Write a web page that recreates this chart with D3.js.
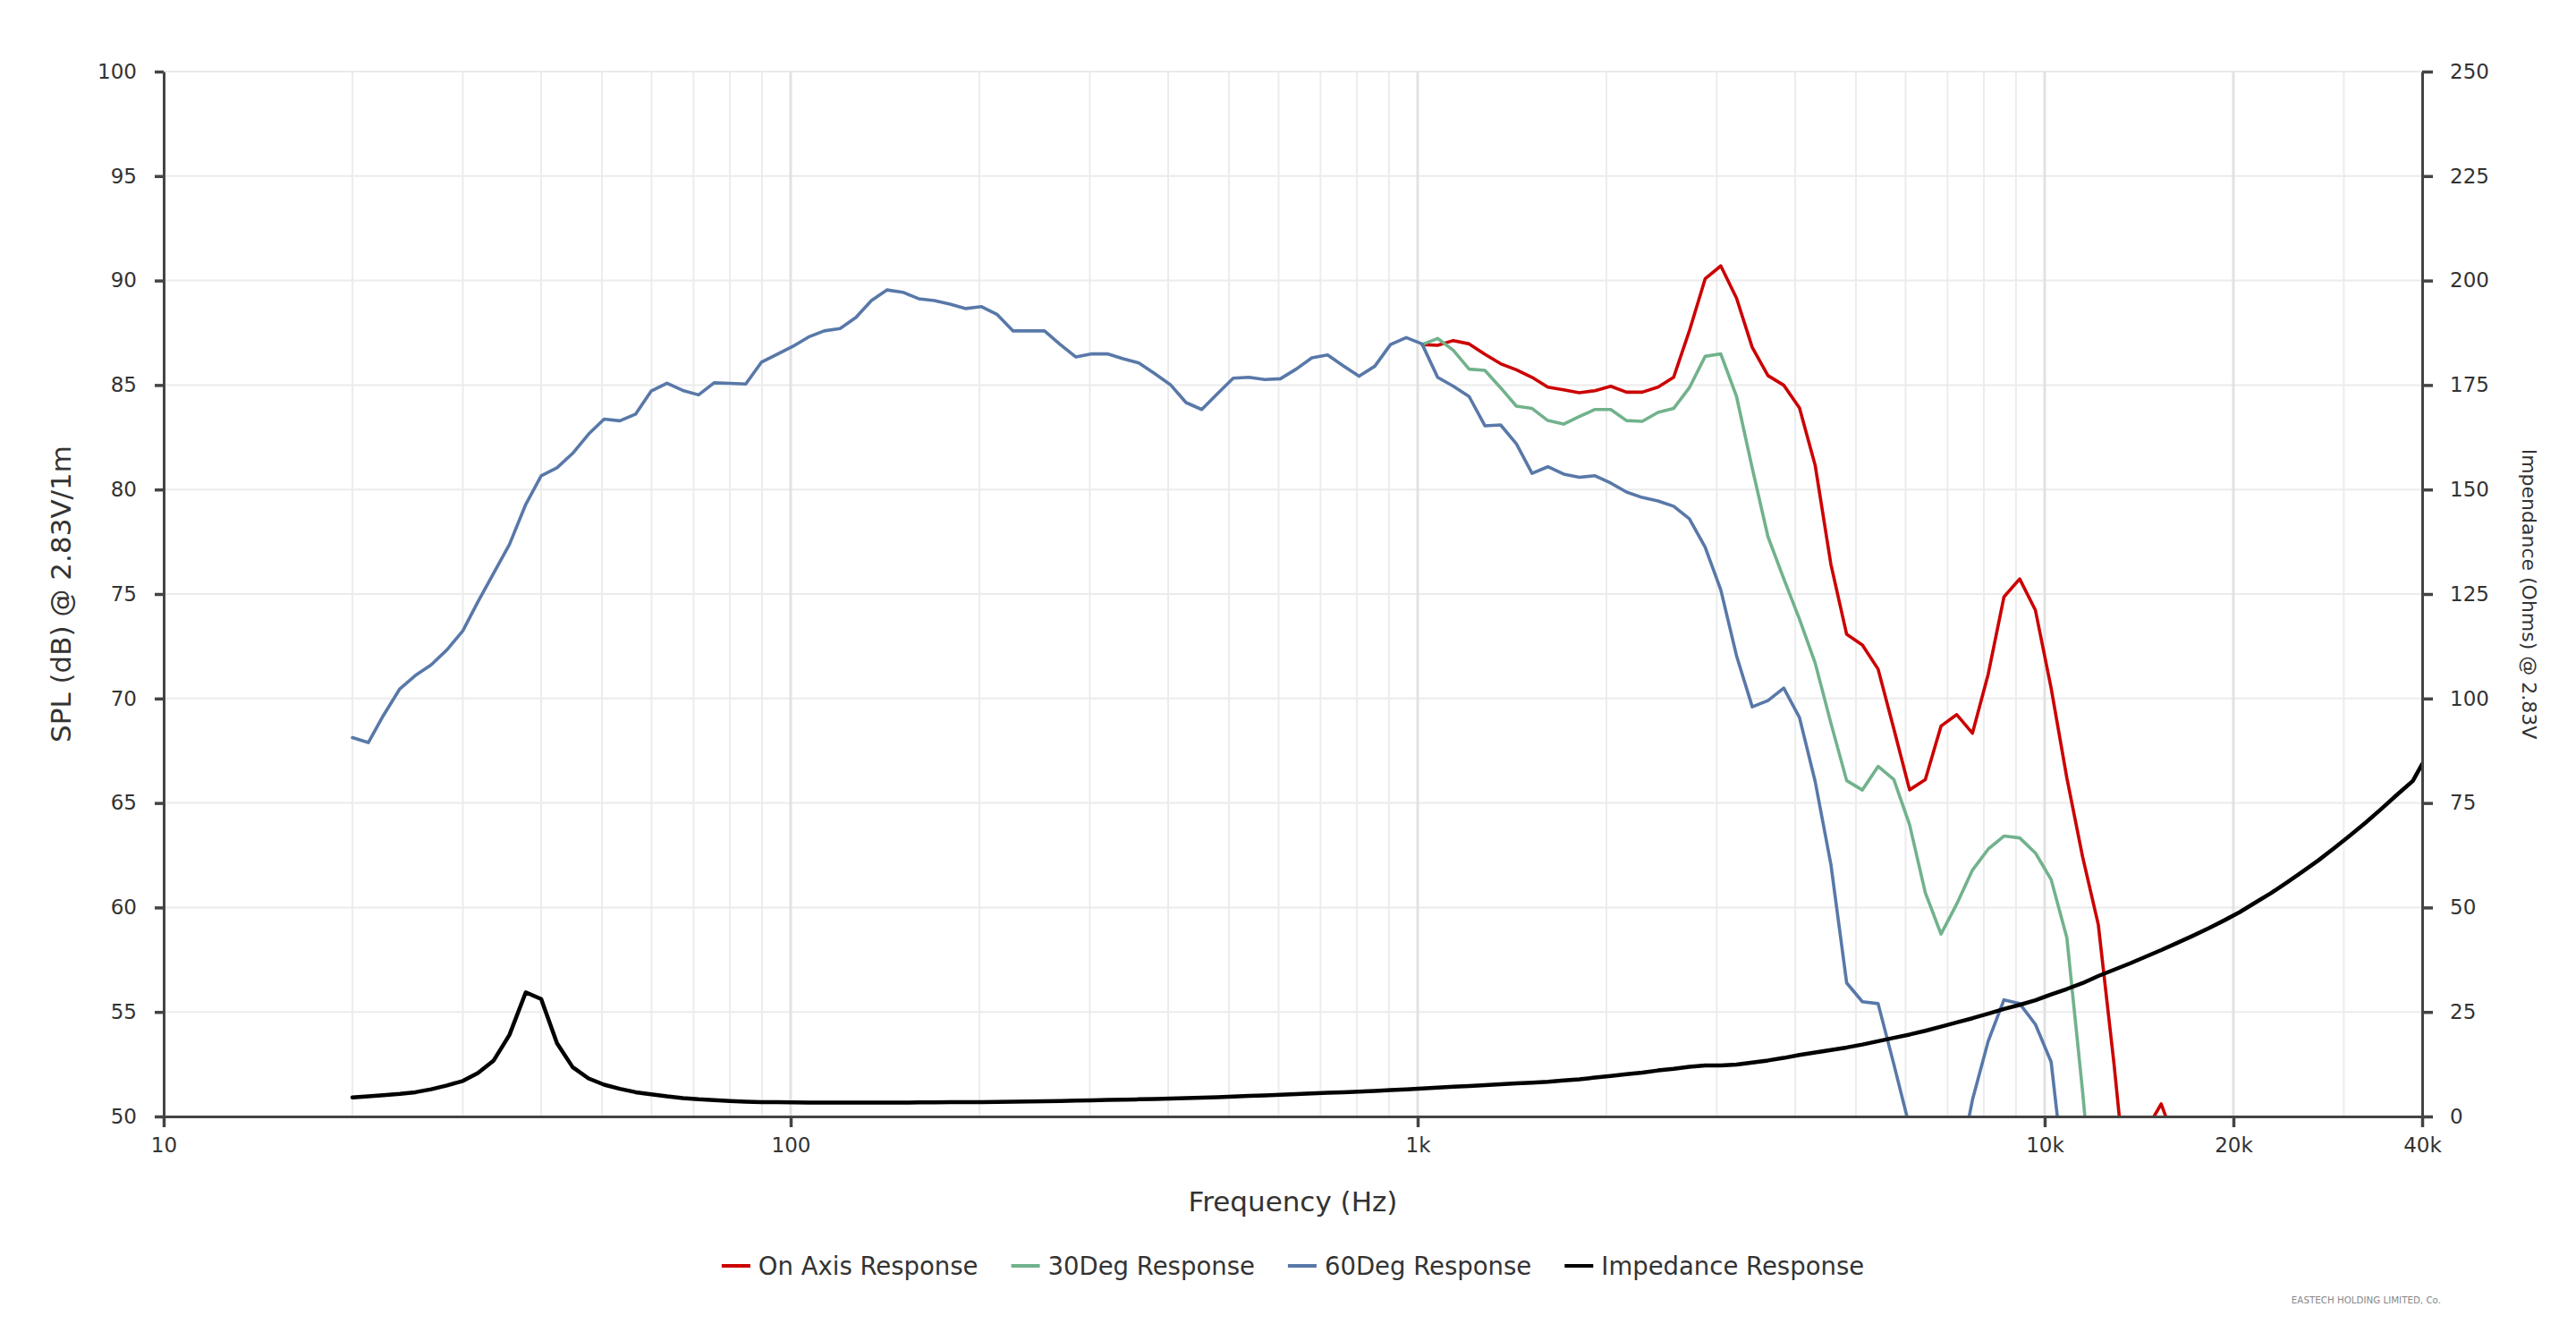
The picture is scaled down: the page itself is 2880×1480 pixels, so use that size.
<!DOCTYPE html>
<html>
<head>
<meta charset="utf-8">
<script src="https://cdn.jsdelivr.net/npm/d3@7"></script>
<style>
  html, body { margin: 0; padding: 0; background: #fff; }
  svg text { font-family: "DejaVu Sans", Verdana, sans-serif; }
</style>
</head>
<body>
<svg id="chart" width="2880" height="1480"></svg>
<script>
// ---------------- DATA ----------------
// 1/12-octave measurement frequencies (Hz)
const freqs = [
  20, 21.2, 22.4, 23.8, 25.2, 26.7, 28.3, 30, 31.7, 33.6, 35.6, 37.8,
  40, 42.4, 44.9, 47.6, 50.4, 53.4, 56.6, 59.9, 63.5, 67.3, 71.3, 75.5,
  80, 84.8, 89.8, 95.1, 100.8, 106.8, 113.1, 119.9, 127, 134.5, 142.5, 151,
  160, 169.5, 179.6, 190.3, 201.6, 213.6, 226.3, 239.7, 254, 269.1, 285.1, 302.1,
  320, 339, 359.2, 380.5, 403.2, 427.1, 452.5, 479.5, 508, 538.2, 570.2, 604.1,
  640, 678, 718.4, 761.1, 806.3, 854.3, 905.1, 958.9, 1016, 1076, 1140, 1208,
  1280, 1356, 1437, 1522, 1613, 1709, 1810, 1918, 2032, 2153, 2281, 2417,
  2560, 2712, 2874, 3044, 3225, 3417, 3620, 3836, 4064, 4305, 4561, 4833,
  5120, 5424, 5747, 6089, 6451, 6834, 7241, 7671, 8127, 8611, 9123, 9665,
  10240, 10849, 11494, 12177, 12902, 13669, 14482, 15343, 16255, 17222, 18246, 19331,
  20480, 21698, 22988, 24355, 25803, 27338, 28963, 30685, 32510, 34443, 36491, 38661,
  40000
];

// On-axis SPL (dB), starts at freqs[68]
const onAxisStart = 68;
const onAxis = [
  86.94, 86.90, 87.13, 86.97, 86.47, 86.02, 85.73, 85.37, 84.90, 84.77, 84.63, 84.73,
  84.94, 84.66, 84.66, 84.90, 85.37, 87.59, 90.08, 90.70, 89.16, 86.80, 85.45, 84.99,
  83.90, 81.16, 76.42, 73.07, 72.56, 71.41, 68.55, 65.63, 66.12, 68.68, 69.23, 68.34,
  71.16, 74.86, 75.72, 74.23, 70.5, 66.2, 62.43, 59.18, 52.5, 45.0, 49.3, 50.6, 48.5
];

// 30 degree SPL (dB), starts at freqs[68]
const deg30Start = 68;
const deg30 = [
  86.94, 87.23, 86.66, 85.76, 85.70, 84.87, 83.99, 83.88, 83.30, 83.13, 83.49, 83.83,
  83.83, 83.30, 83.26, 83.69, 83.88, 84.87, 86.37, 86.49, 84.45, 81.02, 77.74, 75.73,
  73.80, 71.70, 68.82, 66.07, 65.62, 66.75, 66.12, 63.96, 60.71, 58.73, 60.17, 61.79,
  62.79, 63.42, 63.33, 62.61, 61.34, 58.55, 51.2, 43.0
];

// 60 degree SPL (dB), starts at freqs[0]
const deg60Start = 0;
const deg60 = [
  68.13, 67.89, 69.18, 70.46, 71.10, 71.61, 72.33, 73.24, 74.62, 76.00, 77.37, 79.29,
  80.66, 81.04, 81.73, 82.65, 83.37, 83.29, 83.61, 84.71, 85.09, 84.74, 84.53, 85.11,
  85.08, 85.05, 86.09, 86.47, 86.85, 87.30, 87.59, 87.70, 88.23, 89.04, 89.55, 89.44,
  89.13, 89.04, 88.87, 88.66, 88.75, 88.37, 87.59, 87.59, 87.59, 86.94, 86.34, 86.49,
  86.49, 86.26, 86.06, 85.55, 85.02, 84.16, 83.83, 84.59, 85.33, 85.37, 85.26, 85.30,
  85.76, 86.30, 86.44, 85.92, 85.42, 85.90, 86.94, 87.27, 86.97, 85.37, 84.94, 84.45,
  83.05, 83.09, 82.19, 80.77, 81.09, 80.74, 80.59, 80.66, 80.31, 79.88, 79.62, 79.45,
  79.20, 78.60, 77.24, 75.20, 72.05, 69.60, 69.90, 70.50, 69.09, 66.03, 62.06, 56.39,
  55.49, 55.40, 52.5, 49.5, 46.0, 44.0, 47.0, 50.8, 53.6, 55.58, 55.40, 54.41,
  52.61, 46.0, 42.0
];

// Impedance (Ohms), starts at freqs[0]
const impedanceStart = 0;
const impedance = [
  4.55, 4.8, 5.1, 5.4, 5.8, 6.5, 7.4, 8.5, 10.4, 13.4, 19.5, 29.7,
  28.1, 17.5, 11.8, 9.1, 7.6, 6.6, 5.8, 5.3, 4.8, 4.4, 4.1, 3.9,
  3.7, 3.55, 3.45, 3.4, 3.36, 3.33, 3.3, 3.3, 3.3, 3.3, 3.3, 3.3,
  3.35, 3.35, 3.4, 3.4, 3.45, 3.5, 3.55, 3.6, 3.65, 3.7, 3.8, 3.85,
  3.95, 4.0, 4.1, 4.2, 4.3, 4.4, 4.5, 4.6, 4.75, 4.9, 5.05, 5.2,
  5.35, 5.5, 5.65, 5.8, 5.95, 6.1, 6.3, 6.5, 6.7, 6.9, 7.1, 7.3,
  7.5, 7.7, 7.9, 8.1, 8.3, 8.6, 8.9, 9.3, 9.7, 10.1, 10.5, 11.0,
  11.4, 11.9, 12.2, 12.2, 12.4, 12.9, 13.4, 14.0, 14.7, 15.3, 15.9, 16.5,
  17.2, 18.0, 18.8, 19.6, 20.5, 21.5, 22.5, 23.5, 24.6, 25.7, 26.7, 27.8,
  29.2, 30.5, 31.9, 33.6, 35.1, 36.6, 38.2, 39.8, 41.5, 43.2, 45.0, 46.9,
  48.9, 51.2, 53.5, 56.0, 58.6, 61.3, 64.2, 67.2, 70.3, 73.6, 77.0, 80.3,
  84.3
];

const seriesNames = ["On Axis Response", "30Deg Response", "60Deg Response", "Impedance Response"];
const seriesColors = ["#cc0000", "#71b28c", "#5878a8", "#000000"];

const xTickValues = [10, 100, 1000, 10000, 20000, 40000];
const xTickLabels = ["10", "100", "1k", "10k", "20k", "40k"];
const xGridValues = [20,30,40,50,60,70,80,90, 200,300,400,500,600,700,800,900,
                     2000,3000,4000,5000,6000,7000,8000,9000, 30000];
const yTickValues = [50, 55, 60, 65, 70, 75, 80, 85, 90, 95, 100];
const yRightTickValues = [0, 25, 50, 75, 100, 125, 150, 175, 200, 225, 250];

const xTitle = "Frequency (Hz)";
const yTitle = "SPL (dB) @ 2.83V/1m";
const yRightTitle = "Impendance (Ohms) @ 2.83V";
const credit = "EASTECH HOLDING LIMITED, Co.";

// ---------------- CHART ----------------
const svg = d3.select("#chart");
const L = 183, R = 2708, T = 80, B = 1248;

const x = d3.scaleLog().domain([10, 40000]).range([L, R]);
const y = d3.scaleLinear().domain([50, 100]).range([B, T]);
const yR = d3.scaleLinear().domain([0, 250]).range([B, T]);

svg.append("defs").append("clipPath").attr("id", "plotClip")
  .append("rect").attr("x", L).attr("y", T - 2).attr("width", R - L).attr("height", B - T + 2);

// grid
const grid = svg.append("g");
grid.selectAll("line.hg").data(yTickValues.slice(1)).join("line")
  .attr("x1", L).attr("x2", R).attr("y1", d => y(d)).attr("y2", d => y(d))
  .attr("stroke", "#ebebeb").attr("stroke-width", 2);
grid.selectAll("line.vg").data(xGridValues).join("line")
  .attr("x1", d => x(d)).attr("x2", d => x(d)).attr("y1", T).attr("y2", B)
  .attr("stroke", "#ececec").attr("stroke-width", 2);
grid.selectAll("line.vgm").data([100, 1000, 10000, 20000]).join("line")
  .attr("x1", d => x(d)).attr("x2", d => x(d)).attr("y1", T).attr("y2", B)
  .attr("stroke", "#e2e2e2").attr("stroke-width", 3);

// series
function toPoints(start, vals) {
  return vals.map((v, i) => ({ f: freqs[start + i], v }));
}
const plot = svg.append("g").attr("clip-path", "url(#plotClip)");
const lineL = d3.line().x(d => x(d.f)).y(d => y(d.v));
const lineR = d3.line().x(d => x(d.f)).y(d => yR(d.v));

const spl = [
  toPoints(onAxisStart, onAxis),
  toPoints(deg30Start, deg30),
  toPoints(deg60Start, deg60)
];
spl.forEach((pts, i) => {
  plot.append("path").datum(pts).attr("d", lineL)
    .attr("fill", "none").attr("stroke", seriesColors[i])
    .attr("stroke-width", 3.6).attr("stroke-linejoin", "round").attr("stroke-linecap", "round");
});
plot.append("path").datum(toPoints(impedanceStart, impedance)).attr("d", lineR)
  .attr("fill", "none").attr("stroke", seriesColors[3])
  .attr("stroke-width", 4.5).attr("stroke-linejoin", "round").attr("stroke-linecap", "round");

// axes
const axisColor = "#444444";
const labelColor = "#333333";
function styleAxis(g) {
  g.selectAll("path.domain").attr("stroke", axisColor).attr("stroke-width", 3);
  g.selectAll(".tick line").attr("stroke", axisColor).attr("stroke-width", 3.5);
  g.selectAll(".tick text").attr("fill", labelColor)
    .attr("font-family", "DejaVu Sans, Verdana, sans-serif").attr("font-size", 23);
}
svg.append("g").attr("transform", `translate(${L},0)`)
  .call(d3.axisLeft(y).tickValues(yTickValues).tickSize(10).tickSizeOuter(0).tickPadding(20))
  .call(styleAxis);
svg.append("g").attr("transform", `translate(${R},0)`)
  .call(d3.axisRight(yR).tickValues(yRightTickValues).tickSize(12).tickSizeOuter(0).tickPadding(19))
  .call(styleAxis);
svg.append("g").attr("transform", `translate(0,${B})`)
  .call(d3.axisBottom(x).tickValues(xTickValues)
        .tickFormat((d, i) => xTickLabels[i]).tickSize(12).tickSizeOuter(0).tickPadding(12))
  .call(styleAxis);

// titles
svg.append("text").text(xTitle)
  .attr("x", (L + R) / 2).attr("y", 1354).attr("text-anchor", "middle")
  .attr("font-size", 31).attr("fill", labelColor);
svg.append("text").text(yTitle)
  .attr("transform", `translate(79,${(T + B) / 2}) rotate(-90)`).attr("text-anchor", "middle")
  .attr("font-size", 31).attr("fill", labelColor);
svg.append("text").text(yRightTitle)
  .attr("transform", `translate(2820,${(T + B) / 2}) rotate(90)`).attr("text-anchor", "middle")
  .attr("font-size", 22).attr("fill", labelColor);

// legend
const legend = svg.append("g");
const items = legend.selectAll("g").data(seriesNames).join("g");
items.append("rect").attr("x", 0).attr("y", -2).attr("width", 32).attr("height", 4)
  .attr("fill", (d, i) => seriesColors[i]);
items.append("text").text(d => d).attr("x", 41).attr("y", 10)
  .attr("font-size", 27.5).attr("fill", labelColor);
const widths = [];
items.each(function () {
  widths.push(41 + this.querySelector("text").getComputedTextLength());
});
const gap = 37;
const total = d3.sum(widths) + gap * (widths.length - 1);
let startX = (L + R) / 2 - total / 2;
items.attr("transform", (d, i) => {
  const tx = startX;
  startX += widths[i] + gap;
  return `translate(${tx},1415)`;
});

// credit
svg.append("text").text(credit)
  .attr("x", 2729).attr("y", 1457).attr("text-anchor", "end")
  .attr("font-size", 10.3).attr("fill", "#888888");
</script>
</body>
</html>
